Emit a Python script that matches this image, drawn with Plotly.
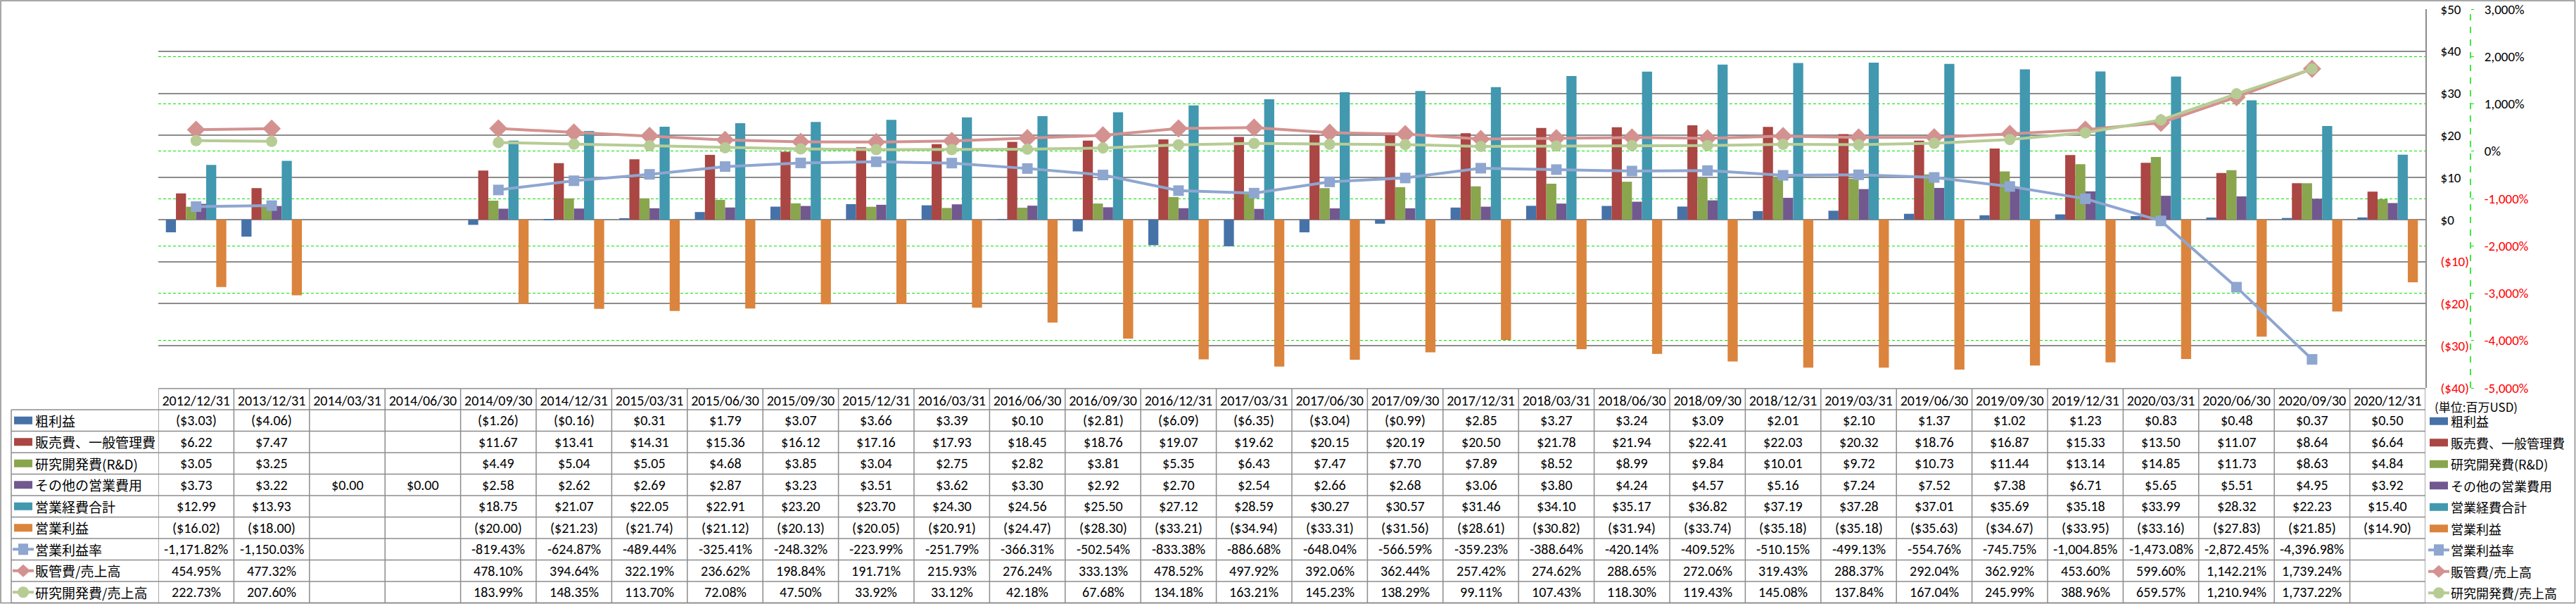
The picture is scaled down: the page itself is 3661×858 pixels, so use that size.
import plotly.graph_objects as go

# ---------------- data ----------------
categories = ["2012/12/31", "2013/12/31", "2014/03/31", "2014/06/30", "2014/09/30", "2014/12/31",
              "2015/03/31", "2015/06/30", "2015/09/30", "2015/12/31", "2016/03/31", "2016/06/30",
              "2016/09/30", "2016/12/31", "2017/03/31", "2017/06/30", "2017/09/30", "2017/12/31",
              "2018/03/31", "2018/06/30", "2018/09/30", "2018/12/31", "2019/03/31", "2019/06/30",
              "2019/09/30", "2019/12/31", "2020/03/31", "2020/06/30", "2020/09/30", "2020/12/31"]

gross_profit = [-3.03, -4.06, None, None, -1.26, -0.16, 0.31, 1.79, 3.07, 3.66, 3.39, 0.10, -2.81, -6.09,
                -6.35, -3.04, -0.99, 2.85, 3.27, 3.24, 3.09, 2.01, 2.10, 1.37, 1.02, 1.23, 0.83, 0.48, 0.37, 0.50]
sga = [6.22, 7.47, None, None, 11.67, 13.41, 14.31, 15.36, 16.12, 17.16, 17.93, 18.45, 18.76, 19.07,
       19.62, 20.15, 20.19, 20.50, 21.78, 21.94, 22.41, 22.03, 20.32, 18.76, 16.87, 15.33, 13.50, 11.07, 8.64, 6.64]
rnd = [3.05, 3.25, None, None, 4.49, 5.04, 5.05, 4.68, 3.85, 3.04, 2.75, 2.82, 3.81, 5.35,
       6.43, 7.47, 7.70, 7.89, 8.52, 8.99, 9.84, 10.01, 9.72, 10.73, 11.44, 13.14, 14.85, 11.73, 8.63, 4.84]
other_opex = [3.73, 3.22, 0.00, 0.00, 2.58, 2.62, 2.69, 2.87, 3.23, 3.51, 3.62, 3.30, 2.92, 2.70,
              2.54, 2.66, 2.68, 3.06, 3.80, 4.24, 4.57, 5.16, 7.24, 7.52, 7.38, 6.71, 5.65, 5.51, 4.95, 3.92]
total_opex = [12.99, 13.93, None, None, 18.75, 21.07, 22.05, 22.91, 23.20, 23.70, 24.30, 24.56, 25.50, 27.12,
              28.59, 30.27, 30.57, 31.46, 34.10, 35.17, 36.82, 37.19, 37.28, 37.01, 35.69, 35.18, 33.99, 28.32, 22.23, 15.40]
op_income = [-16.02, -18.00, None, None, -20.00, -21.23, -21.74, -21.12, -20.13, -20.05, -20.91, -24.47, -28.30, -33.21,
             -34.94, -33.31, -31.56, -28.61, -30.82, -31.94, -33.74, -35.18, -35.18, -35.63, -34.67, -33.95, -33.16,
             -27.83, -21.85, -14.90]
op_margin = [-1171.82, -1150.03, None, None, -819.43, -624.87, -489.44, -325.41, -248.32, -223.99, -251.79,
             -366.31, -502.54, -833.38, -886.68, -648.04, -566.59, -359.23, -388.64, -420.14, -409.52, -510.15,
             -499.13, -554.76, -745.75, -1004.85, -1473.08, -2872.45, -4396.98, None]
sga_ratio = [454.95, 477.32, None, None, 478.10, 394.64, 322.19, 236.62, 198.84, 191.71, 215.93, 276.24,
             333.13, 478.52, 497.92, 392.06, 362.44, 257.42, 274.62, 288.65, 272.06, 319.43, 288.37, 292.04,
             362.92, 453.60, 599.60, 1142.21, 1739.24, None]
rnd_ratio = [222.73, 207.60, None, None, 183.99, 148.35, 113.70, 72.08, 47.50, 33.92, 33.12, 42.18, 67.68,
             134.18, 163.21, 145.23, 138.29, 99.11, 107.43, 118.30, 119.43, 145.08, 137.84, 167.04, 245.99,
             388.96, 659.57, 1210.94, 1737.22, None]

usd_ticks = [50, 40, 30, 20, 10, 0, -10, -20, -30, -40]
pct_ticks = [3000, 2000, 1000, 0, -1000, -2000, -3000, -4000, -5000]
unit_label = "(単位:百万USD)"

bar_series = [
    ("粗利益", gross_profit, "#4672A8"),
    ("販売費、一般管理費", sga, "#AA4643"),
    ("研究開発費(R&D)", rnd, "#89A54E"),
    ("その他の営業費用", other_opex, "#71588F"),
    ("営業経費合計", total_opex, "#4198AF"),
    ("営業利益", op_income, "#DB843D"),
]
line_series = [
    ("営業利益率", op_margin, "#8EA6D0", "square", 15),
    ("販管費/売上高", sga_ratio, "#D39290", "diamond", 20),
    ("研究開発費/売上高", rnd_ratio, "#B6CC94", "circle", 16),
]

# ---------------- geometry helpers ----------------
FW, FH = 3661, 858
ML, MR, MT, MB = 225, 50, 13, 307
PW = FW - ML - MR
PH = FH - MT - MB
PLOT_R = 3447
Y2_X = 3511


def px(x):
    return (x - ML) / PW


def py(y):
    return (FH - MB - y) / PH


FONT = "Calibri, Carlito, Lato, 'Noto Sans CJK JP', sans-serif"
JFONT = "'Noto Sans CJK JP', 'Noto Sans CJK SC', sans-serif"
GRAY = "#8C8C8C"
LIME = "#00E600"
RED = "#FF0000"
NUM_SIZE = 20
JP_SIZE = 19
TICK_SIZE = 19


def fmt_usd(v):
    if v is None:
        return ""
    if v < 0:
        return f"(${abs(v):,.2f})"
    return f"${v:,.2f}"


def fmt_pct(v):
    if v is None:
        return ""
    return f"{v:,.2f}%"


def usd_tick(v):
    if v < 0:
        return f'<span style="color:{RED}">(${abs(v)})</span>'
    return f"${v}"


def pct_tick(v):
    s = f"{v:,}%"
    if v < 0:
        return f'<span style="color:{RED}">{s}</span>'
    return s


fig = go.Figure()

for name, vals, color in bar_series:
    fig.add_trace(go.Bar(
        x=categories, y=vals, name=name,
        marker=dict(color=color, line=dict(width=0)),
    ))

for name, vals, color, sym, size in line_series:
    fig.add_trace(go.Scatter(
        x=categories, y=vals, name=name, yaxis="y2",
        mode="lines+markers", connectgaps=False,
        line=dict(color=color, width=4),
        marker=dict(symbol=sym, size=size, color=color, line=dict(width=0)),
    ))

shapes = []
annotations = []

# ---------------- data table ----------------
ROW_TOP = 582
ROW_H = 30.5
HEADER_TOP = 552
TABLE_BOTTOM = ROW_TOP + 9 * ROW_H
n = len(categories)

line_style = dict(color=GRAY, width=1.5)
shapes.append(dict(type="line", xref="x", yref="paper", x0=-0.5, x1=n - 0.5,
                   y0=py(HEADER_TOP), y1=py(HEADER_TOP), line=line_style))
for i in range(10):
    yy = ROW_TOP + i * ROW_H
    shapes.append(dict(type="line", xref="paper", yref="paper", x0=px(16), x1=px(PLOT_R),
                       y0=py(yy), y1=py(yy), line=line_style))
for k in range(n + 1):
    shapes.append(dict(type="line", xref="x", yref="paper", x0=k - 0.5, x1=k - 0.5,
                       y0=py(HEADER_TOP), y1=py(TABLE_BOTTOM), line=line_style))
shapes.append(dict(type="line", xref="paper", yref="paper", x0=px(16), x1=px(16),
                   y0=py(ROW_TOP), y1=py(TABLE_BOTTOM), line=line_style))

rows = [(name, vals, fmt_usd) for name, vals, _ in bar_series] + \
       [(name, vals, fmt_pct) for name, vals, _, _, _ in line_series]
for r, (name, vals, fmt) in enumerate(rows):
    cy = ROW_TOP + (r + 0.5) * ROW_H
    for c, v in zip(categories, vals):
        t = fmt(v)
        if t:
            annotations.append(dict(x=c, xref="x", y=py(cy), yref="paper", text=t, showarrow=False,
                                    xanchor="center", yanchor="middle",
                                    font=dict(family=FONT, size=NUM_SIZE, color="#000000")))


def add_key(x_left, cy, name, kind, color, sym, size):
    """Legend key: swatch + label (used in table row headers and right legend)."""
    if kind == "bar":
        shapes.append(dict(type="rect", xref="paper", yref="paper", x0=px(x_left + 2), x1=px(x_left + 28),
                           y0=py(cy + 5.5), y1=py(cy - 5.5), fillcolor=color, line=dict(width=0)))
    else:
        shapes.append(dict(type="line", xref="paper", yref="paper", x0=px(x_left), x1=px(x_left + 30),
                           y0=py(cy), y1=py(cy), line=dict(color=color, width=4)))
        cx = x_left + 15
        if sym == "square":
            shapes.append(dict(type="rect", xref="paper", yref="paper", x0=px(cx - 7), x1=px(cx + 7),
                               y0=py(cy + 8), y1=py(cy - 8), fillcolor=color, line=dict(width=0)))
        elif sym == "diamond":
            path = (f"M {px(cx - 10)} {py(cy)} L {px(cx)} {py(cy - 9)} L {px(cx + 10)} {py(cy)} "
                    f"L {px(cx)} {py(cy + 9)} Z")
            shapes.append(dict(type="path", xref="paper", yref="paper", path=path,
                               fillcolor=color, line=dict(width=0)))
        else:
            shapes.append(dict(type="circle", xref="paper", yref="paper", x0=px(cx - 8), x1=px(cx + 8),
                               y0=py(cy + 8), y1=py(cy - 8), fillcolor=color, line=dict(width=0)))
    annotations.append(dict(x=px(x_left + 30), xref="paper", y=py(cy), yref="paper", text=name,
                            showarrow=False, xanchor="left", yanchor="middle", align="left",
                            font=dict(family=JFONT, size=size, color="#000000")))


keys = [(name, "bar", color, None) for name, _, color in bar_series] + \
       [(name, "line", color, sym) for name, _, color, sym, _ in line_series]
for r, (name, kind, color, sym) in enumerate(keys):
    cy = ROW_TOP + (r + 0.5) * ROW_H
    add_key(18, cy, name, kind, color, sym, JP_SIZE)         # table row header
    add_key(3451, cy + 1, name, kind, color, sym, 18)        # legend at right

# secondary axis line (dashed green)
shapes.append(dict(type="line", xref="paper", yref="paper", x0=px(Y2_X), x1=px(Y2_X),
                   y0=0, y1=1, line=dict(color=LIME, width=1.5, dash="dash")))
# outer chart border
shapes.append(dict(type="rect", xref="paper", yref="paper", x0=px(1), x1=px(FW - 1.5),
                   y0=py(FH - 1.5), y1=py(1), line=dict(color=GRAY, width=1.5), fillcolor="rgba(0,0,0,0)"))

annotations.append(dict(x=px(3458), xref="paper", y=py(577), yref="paper", text=unit_label, showarrow=False,
                        xanchor="left", yanchor="middle", align="left",
                        font=dict(family=JFONT, size=17, color="#000000")))

fig.update_layout(
    width=FW, height=FH,
    margin=dict(l=ML, r=MR, t=MT, b=MB, autoexpand=False),
    paper_bgcolor="white", plot_bgcolor="white",
    barmode="group", bargap=0.2, bargroupgap=0,
    showlegend=False,
    font=dict(family=FONT, size=20, color="#000000"),
    xaxis=dict(
        domain=[0, px(PLOT_R)], type="category", range=[-0.5, n - 0.5],
        showgrid=False, zeroline=False, showline=False, ticks="",
        tickangle=0, ticklabelstandoff=4, tickfont=dict(family=FONT, size=NUM_SIZE),
    ),
    yaxis=dict(
        side="right", range=[-40, 50], tickvals=usd_ticks, ticktext=[usd_tick(v) for v in usd_ticks],
        showgrid=True, gridcolor=GRAY, gridwidth=1.5, zeroline=False,
        showline=True, linecolor=GRAY, linewidth=1.5,
        ticks="outside", ticklen=16, tickcolor="rgba(0,0,0,0)",
        tickfont=dict(family=FONT, size=TICK_SIZE),
    ),
    yaxis2=dict(
        overlaying="y", side="right", anchor="free", position=px(Y2_X),
        range=[-5000, 3000], tickvals=pct_ticks, ticktext=[pct_tick(v) for v in pct_ticks],
        showgrid=True, gridcolor=LIME, gridwidth=1.2, griddash="4px,3px", zeroline=False,
        showline=False, ticks="outside", ticklen=4, tickcolor=LIME, ticklabelstandoff=11,
        tickfont=dict(family=FONT, size=TICK_SIZE),
    ),
    shapes=shapes,
    annotations=annotations,
)

fig.write_html(
    "out.html",
    config={"displayModeBar": False},
    post_script="document.body.style.margin='0px';document.body.style.overflow='hidden';",
)
